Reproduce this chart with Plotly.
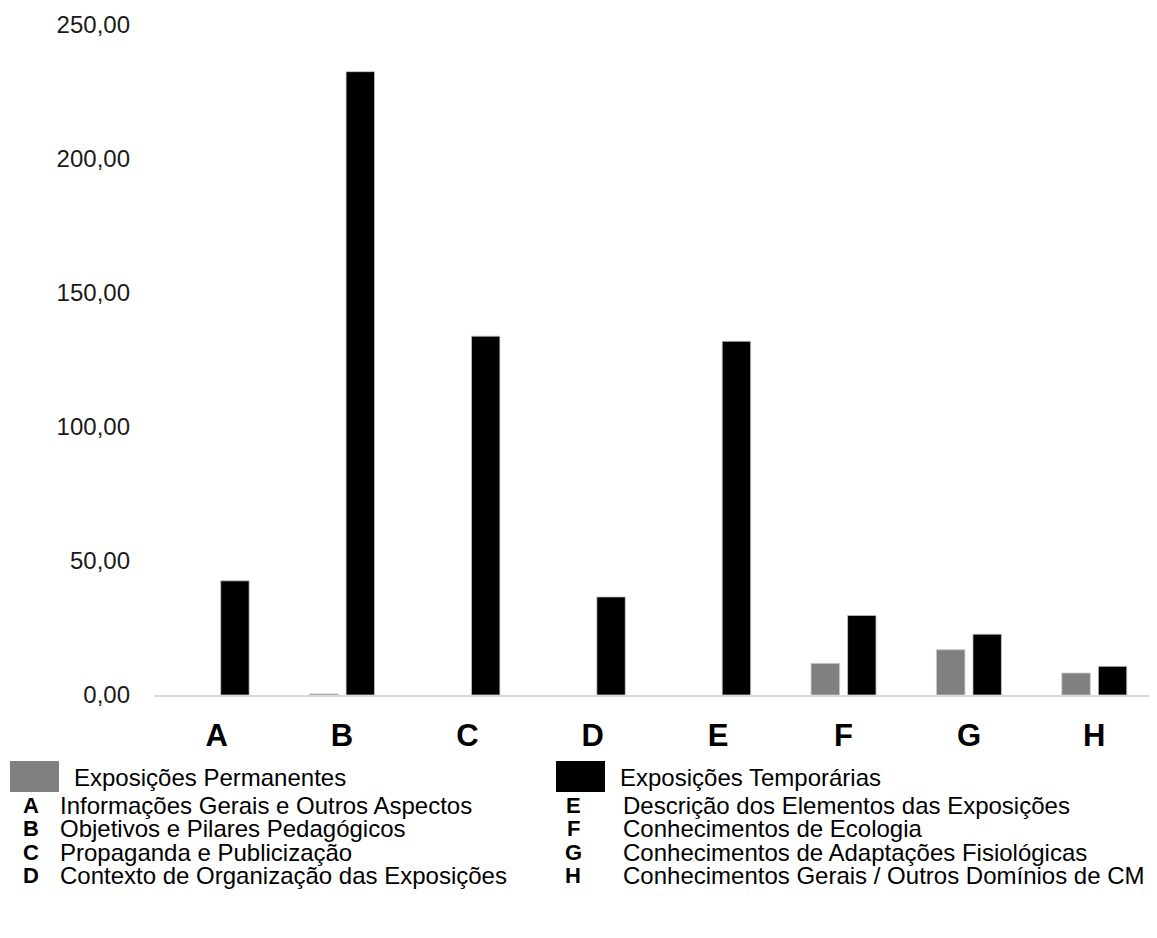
import plotly.graph_objects as go

categories = ["A", "B", "C", "D", "E", "F", "G", "H"]
permanentes = [0.0, 0.4, 0.0, 0.0, 0.0, 11.8, 16.9, 8.2]
temporarias = [42.6, 232.6, 133.9, 36.6, 132.0, 29.7, 22.7, 10.7]
series_names = ["Exposições Permanentes", "Exposições Temporárias"]
y_ticks = [0, 50, 100, 150, 200, 250]
y_tick_labels = ["0,00", "50,00", "100,00", "150,00", "200,00", "250,00"]
desc_left = [("A", "Informações Gerais e Outros Aspectos"),
             ("B", "Objetivos e Pilares Pedagógicos"),
             ("C", "Propaganda e Publicização"),
             ("D", "Contexto de Organização das Exposições")]
desc_right = [("E", "Descrição dos Elementos das Exposições"),
              ("F", "Conhecimentos de Ecologia"),
              ("G", "Conhecimentos de Adaptações Fisiológicas"),
              ("H", "Conhecimentos Gerais / Outros Domínios de CM")]

GRAY = "#808080"
BLACK = "#000000"
EDGE = "#c8c8c8"
FONT = "Liberation Sans, Arial, sans-serif"

# page offset (default body margin of the html page)
OX, OY = 8, 8
W, H = 1157 - OX, 938 - OY
ML, MR, MT, MB = 154 - OX, 0, 25 - OY, 243
PW, PH = W - ML - MR, H - MT - MB


def px_x(x):
    return (x - OX - ML) / PW


def px_y(y):
    return 1 - (y - OY - MT) / PH


def edge_widths(vals):
    return [0 if v == 0 else 0.8 for v in vals]


fig = go.Figure()
fig.add_trace(go.Bar(x=categories, y=permanentes, name=series_names[0],
                     marker=dict(color=GRAY, line=dict(color=EDGE, width=edge_widths(permanentes)))))
fig.add_trace(go.Bar(x=categories, y=temporarias, name=series_names[1],
                     marker=dict(color=BLACK, line=dict(color=EDGE, width=edge_widths(temporarias)))))

fig.update_layout(
    width=W, height=H,
    margin=dict(l=ML, r=MR, t=MT, b=MB, pad=0),
    paper_bgcolor="white", plot_bgcolor="white",
    barmode="group", bargap=0.418, bargroupgap=0.22,
    showlegend=False,
    font=dict(family=FONT, color="#000000"),
    xaxis=dict(range=[-0.5, 7.5], showgrid=False, showline=True, linecolor="#d9d9d9",
               linewidth=2, ticks="", ticklabelstandoff=12,
               tickfont=dict(size=31, family=FONT, weight="bold", color="#000000"),
               fixedrange=True),
    yaxis=dict(range=[0, 250], showgrid=False, showline=False, zeroline=False,
               tickvals=y_ticks, ticktext=y_tick_labels, ticks="",
               ticklabelstandoff=23,
               tickfont=dict(size=24, family=FONT, color="#1a1a1a"), fixedrange=True),
)

shapes = []
annotations = []
# legend swatches and labels
for (x0, color, label) in [(10, GRAY, series_names[0]), (556, BLACK, series_names[1])]:
    shapes.append(dict(type="rect", xref="paper", yref="paper",
                       x0=px_x(x0), x1=px_x(x0 + 49), y0=px_y(792), y1=px_y(761),
                       fillcolor=color, line=dict(width=0), layer="above"))
    annotations.append(dict(xref="paper", yref="paper", x=px_x(x0 + 62), y=px_y(777),
                            text=label, showarrow=False, xanchor="left", yanchor="middle",
                            font=dict(size=24, family=FONT, color="#000000")))

line_y = [805, 828.5, 852, 875.5]
for col, (lx, tx) in zip([desc_left, desc_right], [(31, 58), (573, 621)]):
    for (letter, text), yy in zip(col, line_y):
        annotations.append(dict(xref="paper", yref="paper", x=px_x(lx), y=px_y(yy),
                                text=letter, showarrow=False, xanchor="center", yanchor="middle",
                                font=dict(size=22, family=FONT, weight="bold", color="#000000")))
        annotations.append(dict(xref="paper", yref="paper", x=px_x(tx), y=px_y(yy),
                                text=text, showarrow=False, xanchor="left", yanchor="middle",
                                font=dict(size=24, family=FONT, color="#000000")))

fig.update_layout(shapes=shapes, annotations=annotations)
fig.write_html("out.html", config={"displayModeBar": False})
